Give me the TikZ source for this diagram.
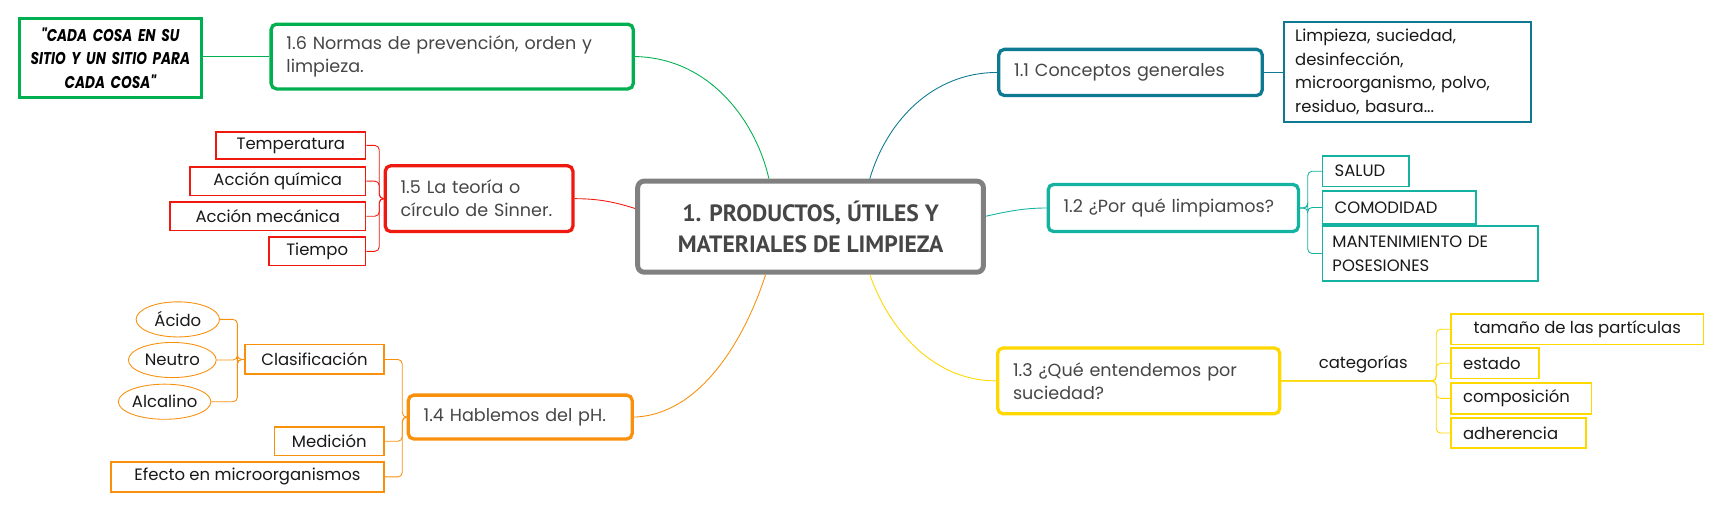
\documentclass[tikz,border=0pt]{standalone}
\usepackage{fontspec}
\setmainfont{Poppins}
\newfontfamily\titlefont{PT Sans}
\newfontfamily\quotefont[FakeStretch=0.8]{Poppins}
\usetikzlibrary{shapes.geometric,calc}
\definecolor{cgreen}{RGB}{0,176,80}
\definecolor{cred}{RGB}{240,25,15}
\definecolor{corange}{RGB}{248,144,12}
\definecolor{cblue}{RGB}{14,122,146}
\definecolor{cteal}{RGB}{20,178,160}
\definecolor{cyellow}{RGB}{255,216,0}
\definecolor{cgray}{RGB}{128,128,128}
\definecolor{maintext}{RGB}{70,70,70}
\definecolor{leaftext}{RGB}{25,25,25}
\tikzset{
  main/.style={draw, rounded corners=5pt, line width=3pt, fill=white, text=maintext,
    font=\fontsize{16}{21}\selectfont, inner ysep=0pt, align=left},
  leaf/.style={draw, line width=1.5pt, fill=white, text=leaftext,
    font=\fontsize{15}{21.5}\selectfont, inner sep=0pt, align=center},
  rleaf/.style={leaf, inner xsep=11pt, align=left},
  oval/.style={ellipse, draw, line width=0.8pt, fill=white, text=leaftext,
    font=\fontsize{15}{21}\selectfont, inner sep=0pt},
  link/.style={line width=0.8pt},
  brace/.style={line width=0.8pt, rounded corners=4pt}
}
\begin{document}
\begin{tikzpicture}[x=1pt,y=-1pt]
\useasboundingbox (0,0) rectangle (1568,464);
% central
\node[draw=cgray, line width=4.5pt, rounded corners=6pt, fill=white, minimum width=315pt, minimum height=83pt,
  text=maintext, font=\titlefont\bfseries\fontsize{21.5}{28}\selectfont, align=center] (c) at (738.5,206.5)
  {1. PRODUCTOS, ÚTILES Y\\MATERIALES DE LIMPIEZA};
% 1.6
\node[main, draw=cgreen, text width=302pt, inner xsep=14pt, minimum height=59pt] (n16) at (412,51.5)
  {1.6 Normas de prevención, orden y\\limpieza.};
\node[draw=cgreen, line width=2.5pt, fill=white, text width=160pt, inner xsep=3pt, minimum height=72pt, align=center,
  font=\quotefont\bfseries\itshape\fontsize{15.5}{21.5}\selectfont, text=black] (quote) at (100.5,53)
  {"CADA COSA EN SU\\SITIO Y UN SITIO PARA\\CADA COSA"};
% 1.5
\node[main, draw=cred, text width=143pt, inner xsep=14pt, minimum height=60pt] (n15) at (436.5,181)
  {1.5 La teoría o\\círculo de Sinner.};
\node[leaf, draw=cred, minimum width=136pt, minimum height=25pt] (temp) at (265,132.5) {Temperatura};
\node[leaf, draw=cred, minimum width=160pt, minimum height=26pt] (quim) at (253,165) {Acción química};
\node[leaf, draw=cred, minimum width=178pt, minimum height=26pt] (mec) at (244,197) {Acción mecánica};
\node[leaf, draw=cred, minimum width=88pt, minimum height=26pt] (tiempo) at (289,229) {Tiempo};
% 1.4
\node[main, draw=corange, text width=176pt, inner xsep=14pt, minimum height=40pt] (n14) at (474,380)
  {1.4 Hablemos del pH.};
\node[leaf, draw=corange, minimum width=127pt, minimum height=27pt] (clas) at (286.5,327.5) {Clasificación};
\node[leaf, draw=corange, minimum width=100pt, minimum height=26pt] (med) at (300,402) {Medición};
\node[leaf, draw=corange, minimum width=249pt, minimum height=27pt] (efecto) at (225.5,434.5) {Efecto en microorganismos};
\node[oval, draw=corange, minimum width=76pt, minimum height=32pt] (acido) at (162,291) {Ácido};
\node[oval, draw=corange, minimum width=80pt, minimum height=32pt] (neutro) at (157,328) {Neutro};
\node[oval, draw=corange, minimum width=84pt, minimum height=32pt] (alcal) at (150,366) {Alcalino};
% 1.1
\node[main, draw=cblue, text width=212pt, inner xsep=14pt, minimum height=42pt] (n11) at (1030,66)
  {1.1 Conceptos generales};
\node[leaf, draw=cblue, text width=205pt, inner xsep=10pt, minimum height=91pt, align=left] (limp) at (1282.5,65.5)
  {Limpieza, suciedad,\\desinfección,\\microorganismo, polvo,\\residuo, basura...};
% 1.2
\node[main, draw=cteal, text width=200pt, inner xsep=14pt, minimum height=43pt] (n12) at (1069,189.5)
  {1.2 ¿Por qué limpiamos?};
\node[rleaf, draw=cteal, text width=57pt, minimum height=28pt] (salud) at (1244.5,156) {SALUD};
\node[rleaf, draw=cteal, text width=118pt, minimum height=30pt] (comod) at (1275,189) {COMODIDAD};
\node[rleaf, draw=cteal, text width=178pt, inner xsep=9pt, minimum height=50pt] (mant) at (1303,231)
  {MANTENIMIENTO DE\\POSESIONES};
% 1.3
\node[main, draw=cyellow, text width=229pt, inner xsep=14pt, minimum height=60pt] (n13) at (1037.5,347)
  {1.3 ¿Qué entendemos por\\suciedad?};
\node[leaf, draw=cyellow, minimum width=230pt, minimum height=28pt] (tam) at (1437,300) {tamaño de las partículas};
\node[rleaf, draw=cyellow, text width=58pt, minimum height=28pt] (estado) at (1362,331) {estado};
\node[rleaf, draw=cyellow, text width=106pt, minimum height=28pt] (comp) at (1386,363) {composición};
\node[rleaf, draw=cyellow, text width=101pt, minimum height=27pt] (adh) at (1383.5,394.5) {adherencia};
\node[font=\fontsize{15}{16}\selectfont, text=leaftext, inner sep=0pt] (cat) at (1242,332) {categorías};

% central connectors
\draw[link, cgreen] ($(c.north)+(-38,0)$) .. controls (690,115) and (650,53) .. (n16.east);
\draw[link, cblue] ($(c.north)+(54,0)$) .. controls (808,110) and (850,66) .. (n11.west);
\draw[link, cred] (c.west |- 0,190) .. controls (560,184) and (545,181) .. (n15.east);
\draw[link, cteal] (c.east |- 0,197) .. controls (920,192) and (935,189.5) .. (n12.west);
\draw[link, corange] ($(c.south)+(-41,0)$) .. controls (680,305) and (640,378) .. (n14.east);
\draw[link, cyellow] ($(c.south)+(54,0)$) .. controls (810,300) and (850,347) .. (n13.west);

% side links
\draw[link, cgreen] (n16.west) -- (n16.west -| quote.east);
\draw[link, cblue] (n11.east) -- (limp.west |- n11.east);
\foreach \k in {temp,quim,mec,tiempo} \draw[brace, cred] (n15.west) -- ++(-4,0) |- (\k.east);
\foreach \k in {clas,med,efecto} \draw[brace, corange] (n14.west) -- ++(-4,0) |- (\k.east);
\foreach \k in {acido,neutro,alcal} \draw[brace, corange] (clas.west) -- ++(-6,0) |- (\k.east);
\foreach \k in {salud,comod,mant} \draw[brace, cteal] (n12.east) -- ++(7,0) |- (\k.west);
\foreach \k in {tam,estado,comp,adh} \draw[brace, cyellow] (n13.east) -- ++(141,0) |- (\k.west);
\end{tikzpicture}
\end{document}
